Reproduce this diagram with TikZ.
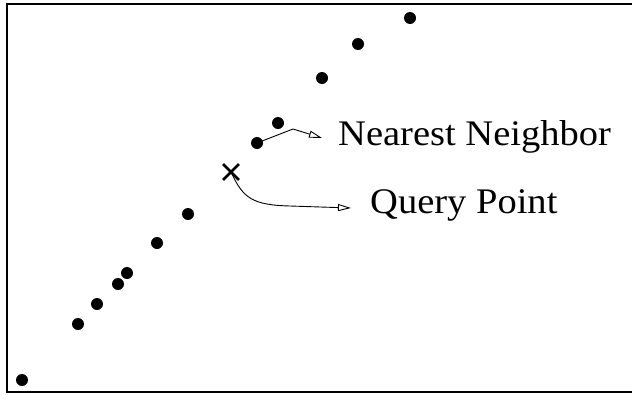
\documentclass[tikz,border=0pt]{standalone}
\usepackage{fontspec}
\setmainfont{Liberation Serif}
\usetikzlibrary{arrows.meta,shapes.misc}
\tikzset{
  pt/.style={circle, fill=black, inner sep=0pt, minimum size=12pt},
  qmark/.style={cross out, draw, line width=2.8pt, inner sep=0pt, minimum size=13pt},
  lbl/.style={anchor=base west, inner sep=0pt, xscale=1.07, font=\fontsize{36}{40}\selectfont},
  pointer/.style={line width=0.9pt, -{Triangle[open, length=13pt, width=7pt]}},
  frameline/.style={line width=2.8pt},
}
\begin{document}
\begin{tikzpicture}[x=1pt, y=-1pt]
  \useasboundingbox (0,0) rectangle (632,394);
  % open frame: top, left and bottom edges
  \draw[frameline] (632,4) -- (7,4) -- (7,392) -- (632,392);
  % data points
  \node[pt] (p1) at (410,18) {};
  \node[pt] (p2) at (358,44) {};
  \node[pt] (p3) at (322,78) {};
  \node[pt] (p4) at (278,123) {};
  \node[pt] (nn) at (257,143) {};
  \node[pt] (p6) at (188,214) {};
  \node[pt] (p7) at (157,243) {};
  \node[pt] (p8) at (127,273) {};
  \node[pt] (p9) at (118,284) {};
  \node[pt] (p10) at (97,304) {};
  \node[pt] (p11) at (78,324) {};
  \node[pt] (p12) at (22,380) {};
  % query point marker
  \node[qmark] (q) at (231,172) {};
  % labels
  \node[lbl] (nnlbl) at (338,145) {Nearest Neighbor};
  \node[lbl] (qlbl) at (370,213) {Query Point};
  % pointers
  \coordinate (nnend) at (322,138);
  \coordinate (qend) at (351,208);
  \draw[pointer] (nn.center) -- (293,129) -- (nnend);
  \draw[pointer] (q.center) .. controls (243,198) and (252,205) .. (290,206) -- (qend);
\end{tikzpicture}
\end{document}
